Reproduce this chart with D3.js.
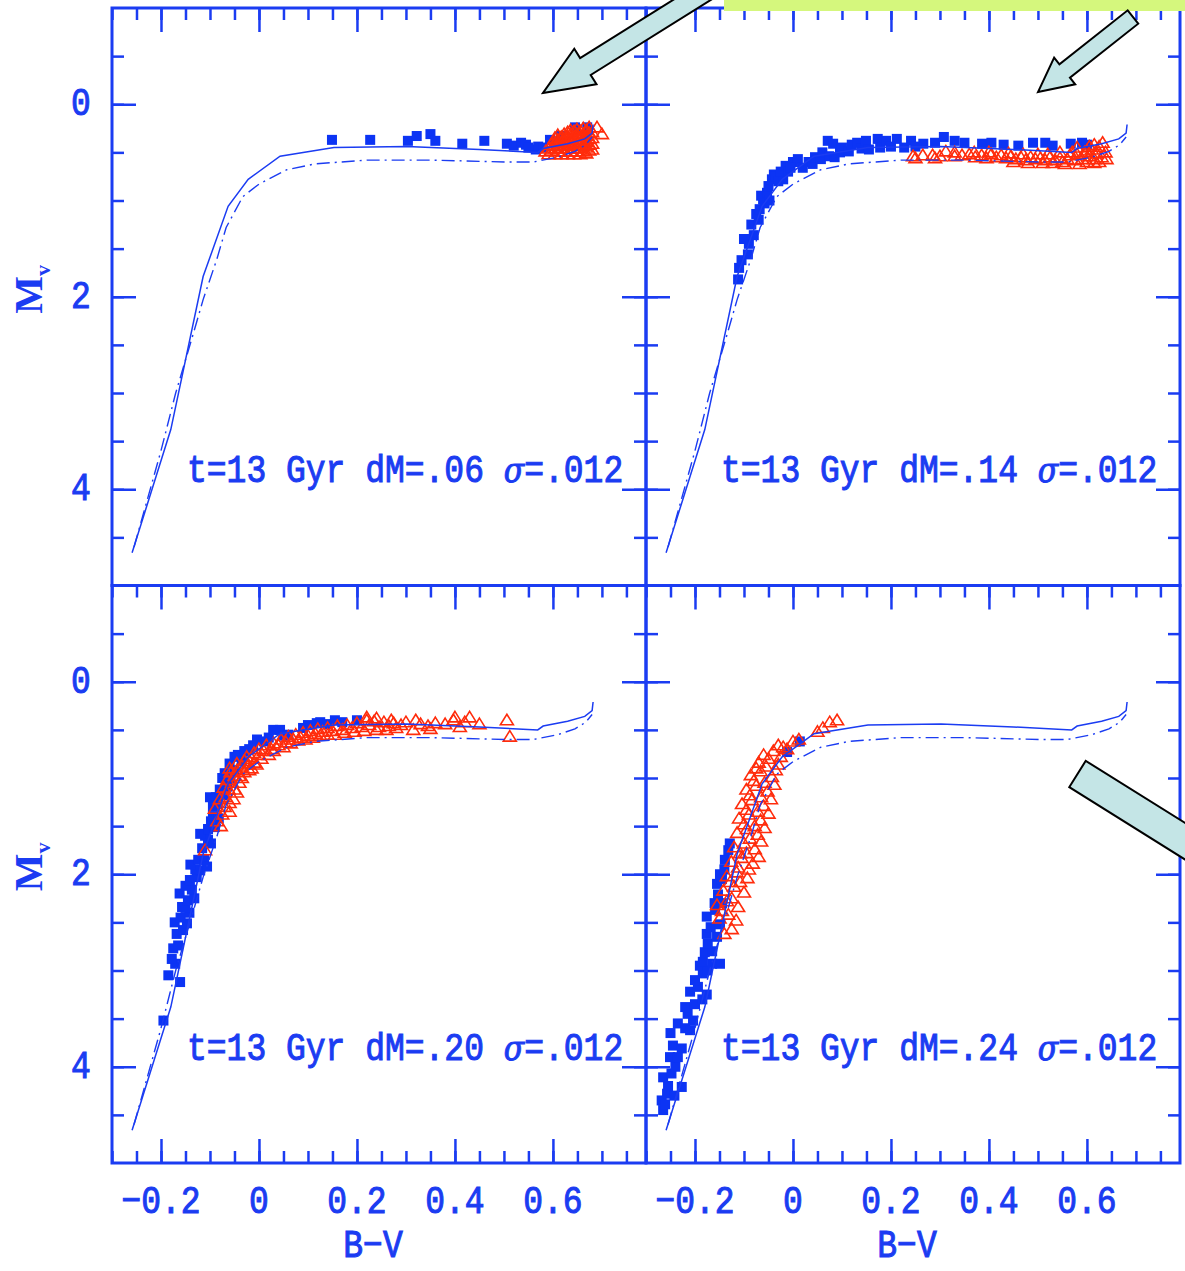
<!DOCTYPE html>
<html>
<head>
<meta charset="utf-8">
<script src="https://cdn.jsdelivr.net/npm/d3@7"></script>
<style>
  body { margin: 0; background: #fff; }
</style>
</head>
<body>
<svg id="chart" width="1185" height="1271"></svg>
<script>
// isochrone tracks (B-V, Mv)
const solidIso = [[-0.259,4.66],[-0.18,3.38],[-0.114,1.79],[-0.063,1.06],[-0.022,0.78],[0.043,0.54],
  [0.153,0.45],[0.302,0.44],[0.45,0.47],[0.569,0.50],[0.58,0.46],[0.63,0.41],[0.665,0.36],[0.68,0.30],[0.682,0.21]];
const dashIso = [[-0.255,4.6],[-0.2,3.6],[-0.17,3.0],[-0.135,2.4],[-0.114,2.03],[-0.086,1.61],[-0.067,1.28],
  [-0.033,0.96],[0.0,0.83],[0.057,0.68],[0.114,0.62],[0.22,0.58],[0.35,0.58],[0.504,0.60],[0.56,0.60],
  [0.61,0.55],[0.645,0.49],[0.667,0.42],[0.68,0.34]];

const dmLabels = ['.06', '.14', '.20', '.24'];

const squares1 = [[0.149,0.37],[0.227,0.37],[0.304,0.38],[0.322,0.33],[0.35,0.31],[0.36,0.38],[0.415,0.41],
  [0.46,0.38],[0.506,0.41],[0.52,0.43],[0.535,0.40],[0.545,0.42],[0.55,0.45],[0.565,0.47],[0.57,0.44],
  [0.58,0.45],[0.594,0.37],[0.616,0.33],[0.645,0.24],[0.67,0.24]];
const triangles1 = [[0.585,0.49],[0.597,0.48],[0.597,0.42],
  [0.61,0.49],[0.61,0.43],[0.61,0.37],[0.61,0.32],
  [0.623,0.49],[0.623,0.43],[0.623,0.37],[0.623,0.31],
  [0.636,0.49],[0.636,0.43],[0.636,0.37],[0.636,0.31],[0.636,0.27],
  [0.649,0.49],[0.649,0.43],[0.649,0.37],[0.649,0.31],[0.649,0.26],
  [0.662,0.49],[0.662,0.43],[0.662,0.37],[0.662,0.31],[0.662,0.25],
  [0.674,0.48],[0.674,0.42],[0.674,0.36],[0.674,0.30],[0.674,0.24],
  [0.591,0.52],[0.591,0.46],[0.604,0.52],[0.604,0.46],[0.604,0.40],[0.604,0.35],
  [0.617,0.52],[0.617,0.46],[0.617,0.40],[0.617,0.34],[0.63,0.52],[0.63,0.46],[0.63,0.40],[0.63,0.34],[0.63,0.29],
  [0.643,0.52],[0.643,0.46],[0.643,0.40],[0.643,0.34],[0.643,0.28],[0.656,0.52],[0.656,0.46],[0.656,0.40],
  [0.656,0.34],[0.656,0.28],[0.668,0.51],[0.668,0.45],[0.668,0.39],[0.668,0.33],[0.668,0.27],
  [0.68,0.47],[0.68,0.41],[0.68,0.35],[0.68,0.29],[0.69,0.24],[0.70,0.31]];

const squares2 = [[-0.112,1.82],[-0.11,1.7],[-0.105,1.62],[-0.092,1.56],[-0.09,1.45],[-0.10,1.40],[-0.08,1.36],
  [-0.085,1.25],[-0.07,1.2],[-0.075,1.14],[-0.068,1.09],[-0.061,0.99],[-0.065,0.95],[-0.053,0.92],[-0.058,1.03],
  [-0.048,1.0],[-0.05,0.85],[-0.043,0.78],[-0.039,0.73],[-0.035,0.75],[-0.03,0.80],[-0.02,0.78],[-0.025,0.70],
  [-0.015,0.64],[-0.01,0.70],[0.0,0.60],[0.01,0.57],[-0.005,0.66],[0.02,0.66],[0.032,0.60],[0.04,0.62],
  [0.045,0.55],[0.057,0.57],[0.06,0.50],[0.071,0.38],[0.082,0.41],[0.074,0.54],[0.085,0.55],[0.096,0.50],
  [0.1,0.45],[0.114,0.49],[0.12,0.42],[0.131,0.40],[0.14,0.46],[0.149,0.38],[0.155,0.47],[0.173,0.36],
  [0.178,0.45],[0.19,0.38],[0.2,0.44],[0.212,0.36],[0.227,0.45],[0.241,0.38],[0.25,0.44],[0.266,0.41],
  [0.29,0.40],[0.308,0.34],[0.33,0.38],[0.35,0.40],[0.386,0.41],[0.405,0.40],[0.43,0.42],[0.46,0.43],
  [0.49,0.40],[0.515,0.40],[0.53,0.43],[0.567,0.41],[0.59,0.40],[0.6,0.42]];
const triangles2 = [[0.245,0.54],[0.25,0.56],[0.265,0.53],[0.285,0.53],[0.29,0.56],[0.30,0.54],[0.312,0.49],
  [0.33,0.54],[0.33,0.50],[0.345,0.53],[0.36,0.52],[0.37,0.50],[0.372,0.55],[0.385,0.53],[0.395,0.56],
  [0.40,0.50],[0.405,0.52],[0.415,0.55],[0.425,0.53],[0.435,0.56],[0.44,0.51],[0.445,0.54],[0.45,0.60],
  [0.455,0.57],[0.465,0.55],[0.47,0.52],[0.475,0.58],[0.48,0.61],[0.485,0.55],[0.495,0.57],[0.5,0.52],
  [0.505,0.56],[0.51,0.61],[0.515,0.58],[0.52,0.52],[0.525,0.55],[0.53,0.61],[0.535,0.58],[0.545,0.56],
  [0.545,0.50],[0.55,0.60],[0.555,0.62],[0.56,0.57],[0.565,0.53],[0.57,0.50],[0.575,0.58],[0.58,0.52],
  [0.58,0.45],[0.585,0.62],[0.59,0.57],[0.595,0.50],[0.60,0.60],[0.6,0.48],[0.605,0.54],[0.605,0.44],
  [0.61,0.47],[0.615,0.57],[0.615,0.61],[0.615,0.42],[0.62,0.51],[0.625,0.44],[0.625,0.6],[0.63,0.55],
  [0.632,0.40],[0.638,0.50],[0.64,0.57]];

const squares3 = [[-0.195,3.52],[-0.161,3.12],[-0.185,3.05],[-0.171,2.93],[-0.178,2.88],[-0.175,2.77],
  [-0.165,2.74],[-0.168,2.62],[-0.155,2.58],[-0.147,2.51],[-0.172,2.5],[-0.16,2.45],[-0.142,2.4],
  [-0.157,2.34],[-0.15,2.35],[-0.145,2.27],[-0.132,2.25],[-0.162,2.2],[-0.137,2.16],[-0.15,2.12],
  [-0.141,2.06],[-0.127,2.03],[-0.12,1.96],[-0.13,1.95],[-0.14,1.9],[-0.124,1.85],[-0.112,1.85],
  [-0.106,1.92],[-0.116,1.73],[-0.104,1.64],[-0.098,1.68],[-0.11,1.6],[-0.12,1.58],[-0.104,1.53],
  [-0.09,1.51],[-0.098,1.45],[-0.094,1.40],[-0.082,1.42],[-0.094,1.30],[-0.084,1.27],[-0.088,1.2],
  [-0.1,1.2],[-0.08,1.12],[-0.065,1.09],[-0.07,1.18],[-0.058,1.0],[-0.075,1.0],[-0.07,0.95],[-0.05,0.92],
  [-0.06,0.85],[-0.05,0.78],[-0.043,0.76],[-0.035,0.82],[-0.03,0.72],[-0.02,0.70],[-0.012,0.66],
  [-0.004,0.60],[0.01,0.62],[0.02,0.58],[0.029,0.50],[0.043,0.50],[0.05,0.56],[0.06,0.55],[0.09,0.48],
  [0.1,0.45],[0.118,0.43],[0.125,0.42],[0.14,0.44],[0.155,0.40],[0.17,0.42],[0.2,0.40]];
const triangles3 = [[-0.11,1.75],[-0.085,1.45],[-0.078,1.5],[-0.09,1.32],[-0.075,1.38],[-0.07,1.30],
  [-0.06,1.35],[-0.08,1.22],[-0.068,1.20],[-0.06,1.26],[-0.052,1.22],[-0.072,1.10],[-0.062,1.12],
  [-0.045,1.15],[-0.055,1.05],[-0.065,1.02],[-0.05,1.12],[-0.04,1.05],[-0.05,0.98],[-0.058,0.94],
  [-0.035,1.0],[-0.045,0.92],[-0.04,0.98],[-0.03,0.94],[-0.06,0.9],[-0.02,0.92],[-0.035,0.88],
  [-0.045,0.85],[-0.03,0.82],[-0.022,0.86],[-0.015,0.9],[-0.005,0.86],[-0.025,0.78],[-0.015,0.80],
  [-0.01,0.84],[0.005,0.8],[-0.01,0.74],[0.0,0.76],[0.0,0.70],[0.01,0.72],[0.02,0.76],[0.03,0.72],
  [0.015,0.66],[0.025,0.70],[0.03,0.64],[0.04,0.66],[0.05,0.68],[0.045,0.60],[0.055,0.63],[0.065,0.64],
  [0.06,0.57],[0.07,0.60],[0.08,0.61],[0.075,0.55],[0.085,0.58],[0.095,0.6],[0.09,0.53],[0.1,0.56],
  [0.11,0.58],[0.105,0.51],[0.115,0.54],[0.125,0.56],[0.12,0.49],[0.13,0.52],[0.14,0.55],[0.14,0.48],
  [0.15,0.51],[0.155,0.55],[0.16,0.46],[0.17,0.50],[0.175,0.53],[0.18,0.45],[0.19,0.48],[0.195,0.52],
  [0.2,0.43],[0.21,0.47],[0.215,0.51],[0.22,0.40],[0.22,0.37],[0.225,0.45],[0.235,0.41],[0.24,0.5],
  [0.24,0.38],[0.245,0.47],[0.255,0.42],[0.26,0.5],[0.265,0.46],[0.27,0.4],[0.275,0.43],[0.28,0.48],
  [0.29,0.45],[0.30,0.42],[0.315,0.50],[0.32,0.40],[0.33,0.44],[0.345,0.46],[0.35,0.49],[0.36,0.43],
  [0.38,0.44],[0.397,0.40],[0.40,0.37],[0.41,0.47],[0.42,0.42],[0.43,0.37],[0.45,0.44],[0.506,0.40],
  [0.512,0.57]];

const squares4 = [[-0.265,4.45],[-0.268,4.35],[-0.261,4.39],[-0.257,4.28],[-0.255,4.2],[-0.265,4.11],
  [-0.248,4.07],[-0.242,4.3],[-0.227,4.21],[-0.24,4.0],[-0.251,3.90],[-0.235,3.9],[-0.245,3.78],
  [-0.227,3.81],[-0.25,3.65],[-0.235,3.55],[-0.22,3.6],[-0.21,3.62],[-0.204,3.52],[-0.215,3.45],
  [-0.22,3.38],[-0.2,3.35],[-0.21,3.22],[-0.194,3.17],[-0.176,3.25],[-0.185,3.3],[-0.2,3.10],
  [-0.184,3.03],[-0.19,2.95],[-0.165,2.93],[-0.175,3.0],[-0.184,2.91],[-0.149,2.93],[-0.18,2.81],
  [-0.165,2.8],[-0.174,2.72],[-0.176,2.62],[-0.155,2.65],[-0.168,2.55],[-0.149,2.52],[-0.176,2.44],
  [-0.159,2.37],[-0.16,2.3],[-0.153,2.21],[-0.145,2.3],[-0.155,2.10],[-0.145,2.05],[-0.149,2.0],
  [-0.14,1.95],[-0.139,1.85],[-0.132,1.75],[-0.129,1.68],[-0.012,0.73],[0.014,0.62]];
const triangles4 = [[-0.14,2.62],[-0.125,2.57],[-0.15,2.46],[-0.132,2.42],[-0.116,2.48],
  [-0.155,2.32],[-0.135,2.28],[-0.112,2.34],[-0.142,2.17],[-0.12,2.13],[-0.1,2.19],
  [-0.135,2.02],[-0.115,1.98],[-0.093,2.04],[-0.126,1.87],[-0.105,1.83],[-0.082,1.89],
  [-0.12,1.72],[-0.1,1.68],[-0.078,1.74],[-0.114,1.57],[-0.094,1.53],[-0.072,1.59],
  [-0.11,1.42],[-0.09,1.38],[-0.066,1.44],[-0.104,1.27],[-0.084,1.23],[-0.06,1.29],
  [-0.095,1.12],[-0.075,1.08],[-0.052,1.14],[-0.086,0.97],[-0.066,0.93],[-0.043,0.99],
  [-0.07,0.84],[-0.05,0.80],[-0.03,0.86],[-0.04,0.72],[-0.02,0.68],[0.0,0.62],[0.012,0.6],
  [-0.145,2.38],[-0.125,2.25],[-0.108,2.08],[-0.128,2.08],[-0.09,1.95],[-0.112,1.93],[-0.095,1.78],
  [-0.07,1.82],[-0.108,1.78],[-0.088,1.63],[-0.065,1.66],[-0.1,1.48],[-0.078,1.5],[-0.058,1.52],
  [-0.095,1.33],[-0.072,1.35],[-0.05,1.37],[-0.088,1.18],[-0.065,1.2],[-0.045,1.22],[-0.08,1.03],
  [-0.058,1.05],[-0.038,1.07],[-0.075,0.9],[-0.055,0.88],[-0.035,0.92],[-0.06,0.76],[-0.025,0.78],
  [-0.012,0.7],[-0.03,0.66],[0.05,0.52],[0.061,0.48],[0.075,0.42],[0.09,0.40]];

const panelSquares = [squares1, squares2, squares3, squares4];
const panelTriangles = [triangles1, triangles2, triangles3, triangles4];

const xMajor = [-0.2, 0, 0.2, 0.4, 0.6];
const xMinor = d3.range(-6, 16).map(i => i * 0.05);
const yMajor = [0, 2, 4];
const yMinor = d3.range(-1, 10).map(i => i * 0.5);

const blue = '#1b3cf2', squareBlue = '#0c34f4', red = '#ff2c0c';
const arrowFill = '#c4e5e6';

const W = 534, H = 577.5, originX = 112, originY = 8;
const x = d3.scaleLinear().domain([-0.3, 0.79]).range([0, W]);
const y = d3.scaleLinear().domain([-1, 5]).range([0, H]);

const svg = d3.select('#chart');

// stretched monospace text, the plot package's glyphs are tall
function label(g, px, py, str, anchor, size = 33) {
  return g.append('text')
    .attr('transform', `translate(${px},${py}) scale(1,1.2)`)
    .attr('text-anchor', anchor)
    .attr('font-family', 'Liberation Mono, monospace')
    .attr('font-size', size)
    .attr('fill', blue)
    .attr('stroke', blue).attr('stroke-width', 0.9)
    .text(str);
}

const line = d3.line().x(d => x(d[0])).y(d => y(d[1]));
const triPath = 'M0,-6L6.5,4.5L-6.5,4.5Z';

function ticks(g, axis, vals, len) {
  g.call(axis.tickValues(vals).tickSize(-len).tickFormat(''))
    .call(s => s.select('.domain').remove())
    .attr('color', blue)
    .selectAll('line').attr('stroke-width', 2.5);
}

dmLabels.forEach((dm, i) => {
  const col = i % 2, row = Math.floor(i / 2);
  const g = svg.append('g').attr('transform', `translate(${originX + col * W},${originY + row * H})`);

  g.append('clipPath').attr('id', 'clip' + i)
    .append('rect').attr('width', W).attr('height', H);
  const plot = g.append('g').attr('clip-path', `url(#clip${i})`);

  plot.append('g').selectAll('rect')
    .data(panelSquares[i]).enter().append('rect')
    .attr('x', d => x(d[0]) - 5).attr('y', d => y(d[1]) - 5)
    .attr('width', 10).attr('height', 10)
    .attr('fill', squareBlue);

  plot.append('g').selectAll('path')
    .data(panelTriangles[i]).enter().append('path')
    .attr('transform', d => `translate(${x(d[0])},${y(d[1])})`)
    .attr('d', triPath)
    .attr('fill', 'none').attr('stroke', red).attr('stroke-width', 1.6);

  plot.append('path').datum(solidIso).attr('d', line)
    .attr('fill', 'none').attr('stroke', blue).attr('stroke-width', 1.5);
  plot.append('path').datum(dashIso).attr('d', line)
    .attr('fill', 'none').attr('stroke', blue).attr('stroke-width', 1.4)
    .attr('stroke-dasharray', '13,5,2,5');

  // ticks pointing inward
  ticks(g.append('g'), d3.axisLeft(y), yMinor, 12);
  ticks(g.append('g'), d3.axisLeft(y), yMajor, 24);
  ticks(g.append('g').attr('transform', `translate(${W},0)`), d3.axisRight(y), yMinor, 12);
  ticks(g.append('g').attr('transform', `translate(${W},0)`), d3.axisRight(y), yMajor, 24);
  ticks(g.append('g'), d3.axisTop(x), xMinor, 12);
  ticks(g.append('g'), d3.axisTop(x), xMajor, 24);
  if (row === 1) {
    ticks(g.append('g').attr('transform', `translate(0,${H})`), d3.axisBottom(x), xMinor, 12);
    ticks(g.append('g').attr('transform', `translate(0,${H})`), d3.axisBottom(x), xMajor, 24);
  }

  g.append('rect').attr('width', W).attr('height', H)
    .attr('fill', 'none').attr('stroke', blue).attr('stroke-width', 3);

  const t = label(g, 75, 474, 't=13 Gyr dM=' + dm + ' ', 'start');
  t.append('tspan').attr('font-style', 'italic').attr('font-family', 'DejaVu Serif').attr('font-size', 30).text('σ');
  t.append('tspan').text('=.012');

  if (col === 0) {
    yMajor.forEach(v => label(g, -31, y(v) + 11, String(v), 'middle'));
    const mv = g.append('text')
      .attr('transform', `translate(${42 - originX},${y(2) + 17}) rotate(-90)`)
      .attr('font-family', 'Liberation Serif, serif').attr('font-weight', 'bold')
      .attr('font-size', 40).attr('fill', blue).text('M');
    mv.append('tspan').attr('font-size', 22).attr('dy', 8).text('v');
  }
  if (row === 1) {
    xMajor.forEach(v => label(g, x(v), H + 50, v === 0 ? '0' : (v < 0 ? '−' : '') + String(Math.abs(v)), 'middle'));
    label(g, W / 2 - 6, H + 94, 'B−V', 'middle');
  }
});

// annotation overlays
svg.append('rect').attr('x', 724).attr('y', 0).attr('width', 461).attr('height', 11).attr('fill', '#d5f77d');

function arrow(tx, ty, ang, len, hl, hw, sw) {
  const pts = [[0, 0], [hl, hw], [hl, sw], [len, sw], [len, -sw], [hl, -sw], [hl, -hw]];
  svg.append('path')
    .attr('transform', `translate(${tx},${ty}) rotate(${ang})`)
    .attr('d', d3.line()(pts) + 'Z')
    .attr('fill', arrowFill).attr('stroke', '#000').attr('stroke-width', 2);
}
arrow(543, 93, -32, 260, 50, 21, 10);
arrow(1038, 92, -38.3, 121, 34, 17, 8.5);
// fat shaft coming in from the right edge
svg.append('path')
  .attr('transform', 'translate(1077.5,774) rotate(32)')
  .attr('d', 'M0,-15.5L220,-15.5L220,15.5L0,15.5Z')
  .attr('fill', arrowFill).attr('stroke', '#000').attr('stroke-width', 2);
</script>
</body>
</html>
